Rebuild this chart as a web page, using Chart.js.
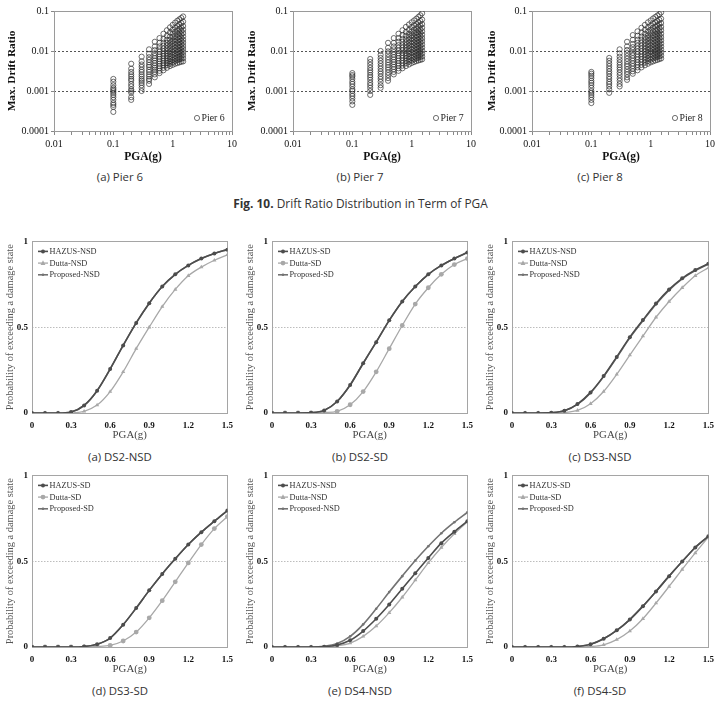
<!DOCTYPE html>
<html><head><meta charset="utf-8">
<script src="https://cdn.jsdelivr.net/npm/chart.js@4.4.1/dist/chart.umd.min.js"></script>
<style>
html,body{margin:0;padding:0;background:#fff;}
body{width:721px;height:704px;position:relative;overflow:hidden;}
canvas{position:absolute;}
.cap{position:absolute;font-family:"Open Sans",sans-serif;font-size:11.4px;color:#333;text-align:center;line-height:16px;white-space:nowrap;}
</style></head><body>
<canvas id="s6" width="240" height="165" style="left:0;top:0"></canvas>
<canvas id="s7" width="240" height="165" style="left:240px;top:0"></canvas>
<canvas id="s8" width="241" height="165" style="left:480px;top:0"></canvas>
<div class="cap" style="left:0;width:240px;top:169px">(a) Pier 6</div>
<div class="cap" style="left:240px;width:240px;top:169px">(b) Pier 7</div>
<div class="cap" style="left:480px;width:240px;top:169px">(c) Pier 8</div>
<div class="cap" style="left:0;width:721px;top:195px;font-size:11.9px"><b>Fig. 10.</b> Drift Ratio Distribution in Term of PGA</div>

<canvas id="fa" width="240" height="210" style="left:0;top:232px"></canvas>
<canvas id="fb" width="240" height="210" style="left:240px;top:232px"></canvas>
<canvas id="fc" width="241" height="210" style="left:480px;top:232px"></canvas>
<canvas id="fd" width="240" height="210" style="left:0;top:466px"></canvas>
<canvas id="fe" width="240" height="210" style="left:240px;top:466px"></canvas>
<canvas id="ff" width="241" height="210" style="left:480px;top:466px"></canvas>
<div class="cap" style="left:0;width:240px;top:449px">(a) DS2-NSD</div>
<div class="cap" style="left:240px;width:240px;top:449px">(b) DS2-SD</div>
<div class="cap" style="left:480px;width:240px;top:449px">(c) DS3-NSD</div>
<div class="cap" style="left:0;width:240px;top:683px">(d) DS3-SD</div>
<div class="cap" style="left:240px;width:240px;top:683px">(e) DS4-NSD</div>
<div class="cap" style="left:480px;width:240px;top:683px">(f) DS4-SD</div>

<script>
// ---------- Data: drift ratio scatter (Fig. 10) ----------
const pgaLevels = [0.1,0.2,0.3,0.4,0.5,0.6,0.7,0.8,0.9,1.0,1.1,1.2,1.3,1.4,1.5];
const pier6Drift = [
 [0.0003,0.0004,0.00045,0.0005,0.0006,0.0007,0.0008,0.0009,0.001,0.0011,0.0012,0.0014,0.0017,0.002],
 [0.0006,0.0007,0.0009,0.001,0.0011,0.0013,0.0015,0.0018,0.002,0.0023,0.0026,0.003,0.0036,0.0048],
 [0.001,0.0012,0.0014,0.0016,0.0018,0.002,0.0023,0.0026,0.003,0.0034,0.004,0.0046,0.0055,0.0072],
 [0.0015,0.0018,0.002,0.0023,0.0026,0.003,0.0034,0.004,0.0045,0.0052,0.006,0.007,0.0085,0.011],
 [0.0022,0.0026,0.003,0.0034,0.0038,0.0043,0.005,0.0058,0.0066,0.0075,0.0088,0.0105,0.013,0.017],
 [0.0028,0.0032,0.0037,0.0042,0.0048,0.0055,0.0063,0.0072,0.0083,0.0096,0.011,0.013,0.016,0.021],
 [0.0033,0.0038,0.0044,0.005,0.0057,0.0065,0.0075,0.0086,0.0099,0.0115,0.0135,0.016,0.02,0.027],
 [0.0038,0.0044,0.005,0.0057,0.0065,0.0075,0.0087,0.01,0.0117,0.0138,0.016,0.019,0.024,0.033],
 [0.0042,0.0048,0.0055,0.0063,0.0072,0.0084,0.0098,0.0115,0.0135,0.016,0.019,0.023,0.029,0.039],
 [0.0045,0.0052,0.006,0.0069,0.008,0.0094,0.011,0.013,0.0153,0.018,0.022,0.027,0.034,0.045],
 [0.0048,0.0056,0.0065,0.0075,0.0088,0.0103,0.012,0.0143,0.017,0.02,0.024,0.03,0.038,0.051],
 [0.005,0.0059,0.0069,0.008,0.0094,0.011,0.013,0.0155,0.0185,0.022,0.027,0.033,0.042,0.057],
 [0.0052,0.0062,0.0072,0.0085,0.01,0.0118,0.014,0.0167,0.02,0.024,0.029,0.036,0.046,0.062],
 [0.0054,0.0064,0.0076,0.009,0.0106,0.0125,0.015,0.018,0.0215,0.026,0.032,0.039,0.05,0.067],
 [0.0055,0.0066,0.0079,0.0094,0.0112,0.0133,0.016,0.019,0.023,0.028,0.034,0.042,0.054,0.073]
];
const pier7Drift = [
 [0.00045,0.00055,0.00065,0.00075,0.00085,0.001,0.0011,0.0013,0.0015,0.0017,0.002,0.0023,0.0025,0.0028],
 [0.0008,0.001,0.0012,0.0014,0.0016,0.0019,0.0022,0.0025,0.0029,0.0033,0.0038,0.0045,0.0053,0.0063],
 [0.0012,0.0014,0.0017,0.002,0.0023,0.0027,0.0031,0.0036,0.0042,0.0049,0.0057,0.0067,0.008,0.01],
 [0.0018,0.0021,0.0025,0.0029,0.0034,0.0039,0.0045,0.0052,0.006,0.007,0.0083,0.0098,0.012,0.016],
 [0.0026,0.003,0.0035,0.004,0.0046,0.0053,0.0061,0.007,0.0081,0.0094,0.011,0.013,0.016,0.021],
 [0.0032,0.0037,0.0043,0.0049,0.0057,0.0066,0.0076,0.0088,0.0102,0.012,0.014,0.017,0.021,0.027],
 [0.0037,0.0043,0.005,0.0058,0.0067,0.0077,0.009,0.0104,0.012,0.014,0.017,0.02,0.025,0.033],
 [0.0042,0.0049,0.0057,0.0066,0.0076,0.0088,0.0103,0.012,0.014,0.0165,0.0195,0.024,0.03,0.04],
 [0.0046,0.0054,0.0063,0.0073,0.0085,0.0099,0.0116,0.0136,0.016,0.019,0.0225,0.027,0.034,0.046],
 [0.005,0.0058,0.0068,0.0079,0.0092,0.0108,0.0127,0.015,0.0177,0.021,0.025,0.031,0.039,0.052],
 [0.0053,0.0062,0.0072,0.0085,0.0099,0.0117,0.0138,0.0163,0.0193,0.023,0.028,0.034,0.043,0.058],
 [0.0056,0.0065,0.0077,0.009,0.0106,0.0125,0.0148,0.0176,0.021,0.025,0.03,0.037,0.047,0.064],
 [0.0058,0.0068,0.008,0.0095,0.0112,0.0133,0.0158,0.0188,0.0225,0.027,0.033,0.041,0.052,0.071],
 [0.006,0.0071,0.0084,0.0099,0.0118,0.014,0.0167,0.02,0.024,0.029,0.035,0.044,0.056,0.078],
 [0.0062,0.0073,0.0087,0.0103,0.0123,0.0147,0.0176,0.021,0.0255,0.031,0.038,0.047,0.061,0.088]
];
const pier8Drift = [
 [0.0005,0.0006,0.0007,0.0008,0.0009,0.001,0.0012,0.0014,0.0016,0.0018,0.0021,0.0024,0.0027,0.003],
 [0.0009,0.0011,0.0013,0.0015,0.0017,0.002,0.0023,0.0027,0.0031,0.0036,0.0042,0.0049,0.0057,0.0067],
 [0.0013,0.0015,0.0018,0.0021,0.0025,0.0029,0.0034,0.0039,0.0045,0.0052,0.0061,0.0072,0.0087,0.011],
 [0.0019,0.0022,0.0026,0.003,0.0035,0.0041,0.0047,0.0055,0.0064,0.0075,0.0089,0.0106,0.013,0.017],
 [0.0027,0.0031,0.0036,0.0042,0.0049,0.0057,0.0066,0.0077,0.009,0.0106,0.0125,0.015,0.019,0.025],
 [0.0033,0.0039,0.0045,0.0052,0.0061,0.0071,0.0083,0.0097,0.0114,0.0134,0.016,0.019,0.024,0.031],
 [0.0039,0.0045,0.0053,0.0062,0.0072,0.0084,0.0098,0.0115,0.0135,0.016,0.019,0.023,0.029,0.038],
 [0.0044,0.0051,0.006,0.007,0.0082,0.0096,0.0112,0.0132,0.0156,0.0185,0.022,0.027,0.034,0.045],
 [0.0048,0.0056,0.0066,0.0077,0.009,0.0106,0.0125,0.0148,0.0175,0.021,0.025,0.031,0.039,0.052],
 [0.0052,0.0061,0.0071,0.0084,0.0098,0.0116,0.0137,0.0162,0.0193,0.023,0.028,0.034,0.043,0.058],
 [0.0055,0.0065,0.0076,0.009,0.0106,0.0125,0.0148,0.0176,0.021,0.025,0.031,0.038,0.048,0.065],
 [0.0058,0.0068,0.008,0.0095,0.0112,0.0133,0.0158,0.0189,0.0226,0.027,0.033,0.041,0.052,0.071],
 [0.006,0.0071,0.0084,0.01,0.0118,0.014,0.0167,0.02,0.024,0.029,0.035,0.044,0.056,0.077],
 [0.0063,0.0074,0.0088,0.0104,0.0124,0.0148,0.0177,0.0212,0.0255,0.031,0.038,0.047,0.06,0.083],
 [0.0065,0.0077,0.0091,0.0108,0.0129,0.0154,0.0185,0.0222,0.027,0.033,0.04,0.05,0.064,0.092]
];
const driftTicks = [0.0001,0.001,0.01,0.1];
const pgaLogTicks = [0.01,0.1,1,10];

// ---------- Data: fragility curves ----------
const pga = [0,0.1,0.2,0.3,0.4,0.5,0.6,0.7,0.8,0.9,1.0,1.1,1.2,1.3,1.4,1.5];
const pgaTicks = [0,0.3,0.6,0.9,1.2,1.5];
const probTicks = [0,0.5,1];

const ds2nsdHazus    = [0,0,0,0.006,0.044,0.13,0.256,0.394,0.525,0.64,0.737,0.808,0.86,0.9,0.93,0.952];
const ds2nsdDutta    = [0,0,0,0.001,0.01,0.046,0.125,0.24,0.375,0.5,0.62,0.72,0.8,0.85,0.89,0.922];
const ds2nsdProposed = [0,0,0,0.006,0.044,0.13,0.256,0.394,0.525,0.64,0.737,0.808,0.86,0.9,0.93,0.952];

const ds2sdHazus     = [0,0,0,0.002,0.015,0.067,0.163,0.29,0.413,0.54,0.65,0.737,0.808,0.86,0.9,0.935];
const ds2sdDutta     = [0,0,0,0,0.003,0.01,0.048,0.125,0.24,0.375,0.51,0.635,0.73,0.808,0.865,0.9];
const ds2sdProposed  = [0,0,0,0.002,0.015,0.067,0.163,0.29,0.413,0.54,0.65,0.737,0.808,0.86,0.9,0.935];

const ds3nsdHazus    = [0,0,0,0.002,0.013,0.052,0.12,0.215,0.327,0.442,0.542,0.638,0.72,0.785,0.833,0.87];
const ds3nsdDutta    = [0,0,0,0,0.003,0.015,0.054,0.125,0.225,0.337,0.448,0.558,0.65,0.73,0.8,0.846];
const ds3nsdProposed = [0,0,0,0.002,0.013,0.05,0.117,0.212,0.323,0.438,0.538,0.634,0.716,0.782,0.83,0.868];

const ds3sdHazus     = [0,0,0,0,0.003,0.016,0.052,0.13,0.227,0.33,0.426,0.514,0.597,0.669,0.733,0.795];
const ds3sdDutta     = [0,0,0,0,0,0.003,0.01,0.035,0.087,0.17,0.27,0.38,0.49,0.597,0.69,0.76];
const ds3sdProposed  = [0,0,0,0,0.003,0.016,0.052,0.13,0.227,0.33,0.426,0.514,0.597,0.669,0.733,0.795];

const ds4nsdHazus    = [0,0,0,0,0.002,0.012,0.039,0.093,0.165,0.248,0.339,0.43,0.519,0.605,0.672,0.733];
const ds4nsdDutta    = [0,0,0,0,0.001,0.007,0.023,0.062,0.122,0.2,0.29,0.39,0.49,0.58,0.66,0.73];
const ds4nsdProposed = [0,0,0,0,0.004,0.02,0.062,0.132,0.223,0.32,0.413,0.504,0.587,0.663,0.727,0.785];

const ds4sdHazus     = [0,0,0,0,0,0.003,0.016,0.048,0.097,0.16,0.238,0.324,0.413,0.498,0.58,0.645];
const ds4sdDutta     = [0,0,0,0,0,0,0.003,0.013,0.043,0.093,0.165,0.256,0.353,0.452,0.548,0.64];
const ds4sdProposed  = [0,0,0,0,0,0.003,0.016,0.048,0.097,0.16,0.238,0.324,0.413,0.498,0.58,0.645];

// ---------- Helpers ----------
const SERIF = '"Liberation Serif","Times New Roman",serif';
const fmtPow = v => v >= 1 ? String(Math.round(v)) : v.toFixed(-Math.round(Math.log10(v)));

function drawMarker(ctx, style, x, y, r){
  ctx.beginPath();
  if (style === 'triangle'){
    ctx.moveTo(x, y - r*1.15); ctx.lineTo(x + r, y + r*0.75); ctx.lineTo(x - r, y + r*0.75); ctx.closePath();
  } else {
    ctx.arc(x, y, r, 0, Math.PI*2);
  }
  ctx.fill();
}

const decor = {
  id:'decor',
  beforeDatasetsDraw(chart, args, o){
    const {ctx, chartArea:a, scales:{y}} = chart;
    ctx.save();
    ctx.lineWidth = 1;
    ctx.setLineDash(o.dash);
    ctx.strokeStyle = o.refColor;
    o.refs.forEach(v => {
      const py = Math.round(y.getPixelForValue(v)) + 0.5;
      ctx.beginPath(); ctx.moveTo(a.left, py); ctx.lineTo(a.right, py); ctx.stroke();
    });
    ctx.setLineDash([]);
    ctx.strokeStyle = o.frameColor;
    ctx.strokeRect(Math.round(a.left)+0.5, Math.round(a.top)+0.5, Math.round(a.right-a.left), Math.round(a.bottom-a.top));
    ctx.restore();
  }
};

const innerLegend = {
  id:'innerLegend',
  afterDatasetsDraw(chart, args, o){
    const {ctx, chartArea:a} = chart;
    ctx.save();
    ctx.font = o.font;
    ctx.textBaseline = 'middle';
    if (o.kind === 'scatter'){
      const d = chart.data.datasets[0];
      const x = a.right - o.dx, y = a.bottom - o.dy;
      ctx.strokeStyle = d.pointBorderColor; ctx.lineWidth = d.pointBorderWidth;
      ctx.beginPath(); ctx.arc(x, y, d.pointRadius, 0, Math.PI*2); ctx.stroke();
      ctx.fillStyle = o.color; ctx.fillText(d.label, x + 4.5, y + 0.5);
    } else {
      chart.data.datasets.forEach((d, i) => {
        const y = a.top + o.y0 + i*o.dy, x0 = a.left + o.x0;
        ctx.strokeStyle = d.borderColor; ctx.lineWidth = d.borderWidth;
        ctx.beginPath(); ctx.moveTo(x0, y); ctx.lineTo(x0 + o.len, y); ctx.stroke();
        ctx.fillStyle = d.pointBackgroundColor;
        drawMarker(ctx, d.pointStyle, x0 + o.len/2, y, d.pointRadius);
        ctx.fillStyle = o.color; ctx.fillText(d.label, x0 + o.len + 1.5, y + 0.5);
      });
    }
    ctx.restore();
  }
};

function scatterChart(id, label, drift, yW, padR){
  const pts = [];
  pgaLevels.forEach((x, i) => drift[i].forEach(y => pts.push({x, y})));
  new Chart(document.getElementById(id), {
    type:'scatter',
    data:{datasets:[{label, data:pts, pointStyle:'circle', pointRadius:2.6, pointBorderWidth:0.8,
      pointBorderColor:'rgba(45,45,45,0.85)', pointBackgroundColor:'rgba(255,255,255,0)'}]},
    options:{
      responsive:false, animation:false, events:[],
      layout:{padding:{left:0, right:padR, top:11, bottom:0}},
      plugins:{legend:{display:false}, tooltip:{enabled:false},
        decor:{refs:[0.01,0.001], refColor:'#555', dash:[2,2], frameColor:'#9a9a9a'},
        innerLegend:{kind:'scatter', dx:35, dy:13, font:'9.8px '+SERIF, color:'#222'}},
      scales:{
        x:{type:'logarithmic', min:0.01, max:10,
          afterFit(s){ s.height = 34; },
          grid:{drawOnChartArea:false, tickLength:4, color:'#888'}, border:{display:false},
          ticks:{autoSkip:false, maxRotation:0, minRotation:0, padding:3, color:'#111',
            font:{family:SERIF, size:10}, callback:v => pgaLogTicks.some(t => Math.abs(t-v) < t*1e-6) ? fmtPow(v) : ''},
          title:{display:true, text:'PGA(g)', color:'#111', font:{family:SERIF, size:11.5, weight:'bold'}, padding:{top:0,bottom:1}}},
        y:{type:'logarithmic', min:0.0001, max:0.1,
          afterFit(s){ s.width = yW; },
          afterBuildTicks(s){ s.ticks = driftTicks.map(v => ({value:v})); },
          grid:{drawOnChartArea:false, tickLength:3, color:'#888'}, border:{display:false},
          ticks:{padding:2, color:'#111', font:{family:SERIF, size:10}, callback:v => fmtPow(v)},
          title:{display:true, text:'Max. Drift Ratio', color:'#111', font:{family:SERIF, size:11.3, weight:'bold'}, padding:{top:5,bottom:0}}}
      }
    },
    plugins:[decor, innerLegend]
  });
}

const STY = {
  hazus:{color:'#4d4d4d', width:1.6, marker:'circle', r:2},
  dutta:{color:'#a8a8a8', width:1.3, marker:'triangle', r:2.4},
  duttaC:{color:'#a8a8a8', width:1.3, marker:'circle', r:2.4},
  proposed:{color:'#737373', width:1.6, marker:'circle', r:1.3}
};

function fragChart(id, series, padT, padR, padB){
  const datasets = series.map(s => ({
    label:s.label,
    data:pga.map((x, i) => ({x, y:s.values[i]})),
    borderColor:s.st.color, backgroundColor:s.st.color, borderWidth:s.st.width,
    pointStyle:s.st.marker, pointRadius:s.st.r, pointBorderWidth:0,
    pointBackgroundColor:s.st.color, pointBorderColor:s.st.color,
    cubicInterpolationMode:'monotone', fill:false
  }));
  new Chart(document.getElementById(id), {
    type:'line',
    data:{datasets},
    options:{
      responsive:false, animation:false, events:[],
      layout:{padding:{left:0, right:padR, top:padT, bottom:padB}},
      plugins:{legend:{display:false}, tooltip:{enabled:false},
        decor:{refs:[0.5], refColor:'#bdbdbd', dash:[1.5,1.5], frameColor:'#a5a5a5'},
        innerLegend:{kind:'lines', x0:6, len:10, y0:10, dy:11.7, font:'8.3px '+SERIF, color:'#333'}},
      scales:{
        x:{type:'linear', min:0, max:1.5,
          afterFit(s){ s.height = 29; },
          afterBuildTicks(s){ s.ticks = pgaTicks.map(v => ({value:v})); },
          grid:{display:false, drawTicks:false}, border:{display:false},
          ticks:{autoSkip:false, maxRotation:0, padding:7, color:'#111',
            font:{family:SERIF, size:9, weight:'bold'}, callback:v => String(Math.round(v*10)/10)},
          title:{display:true, text:'PGA(g)', color:'#444', font:{family:SERIF, size:10.8}, padding:{top:0,bottom:0}}},
        y:{type:'linear', min:0, max:1,
          afterFit(s){ s.width = 32; },
          afterBuildTicks(s){ s.ticks = probTicks.map(v => ({value:v})); },
          grid:{display:false, drawTicks:false}, border:{display:false},
          ticks:{padding:4, color:'#111', font:{family:SERIF, size:9, weight:'bold'}, callback:v => String(v)},
          title:{display:true, text:'Probability of exceeding a damage state', color:'#555', font:{family:SERIF, size:10.4}, padding:{top:4,bottom:0}}}
      }
    },
    plugins:[decor, innerLegend]
  });
}

scatterChart('s6', 'Pier 6', pier6Drift, 54, 8);
scatterChart('s7', 'Pier 7', pier7Drift, 53, 9);
scatterChart('s8', 'Pier 8', pier8Drift, 52, 11);

fragChart('fa', [
  {label:'HAZUS-NSD', values:ds2nsdHazus, st:STY.hazus},
  {label:'Dutta-NSD', values:ds2nsdDutta, st:STY.dutta},
  {label:'Proposed-NSD', values:ds2nsdProposed, st:STY.proposed}], 8, 11, 0);
fragChart('fb', [
  {label:'HAZUS-SD', values:ds2sdHazus, st:STY.hazus},
  {label:'Dutta-SD', values:ds2sdDutta, st:STY.duttaC},
  {label:'Proposed-SD', values:ds2sdProposed, st:STY.proposed}], 8, 11, 0);
fragChart('fc', [
  {label:'HAZUS-NSD', values:ds3nsdHazus, st:STY.hazus},
  {label:'Dutta-NSD', values:ds3nsdDutta, st:STY.dutta},
  {label:'Proposed-NSD', values:ds3nsdProposed, st:STY.proposed}], 8, 12, 0);
fragChart('fd', [
  {label:'HAZUS-SD', values:ds3sdHazus, st:STY.hazus},
  {label:'Dutta-SD', values:ds3sdDutta, st:STY.duttaC},
  {label:'Proposed-SD', values:ds3sdProposed, st:STY.proposed}], 9, 11, 0);
fragChart('fe', [
  {label:'HAZUS-NSD', values:ds4nsdHazus, st:STY.hazus},
  {label:'Dutta-NSD', values:ds4nsdDutta, st:STY.dutta},
  {label:'Proposed-NSD', values:ds4nsdProposed, st:STY.proposed}], 9, 11, 0);
fragChart('ff', [
  {label:'HAZUS-SD', values:ds4sdHazus, st:STY.hazus},
  {label:'Dutta-SD', values:ds4sdDutta, st:STY.dutta},
  {label:'Proposed-SD', values:ds4sdProposed, st:STY.proposed}], 9, 12, 0);
</script>
</body></html>
